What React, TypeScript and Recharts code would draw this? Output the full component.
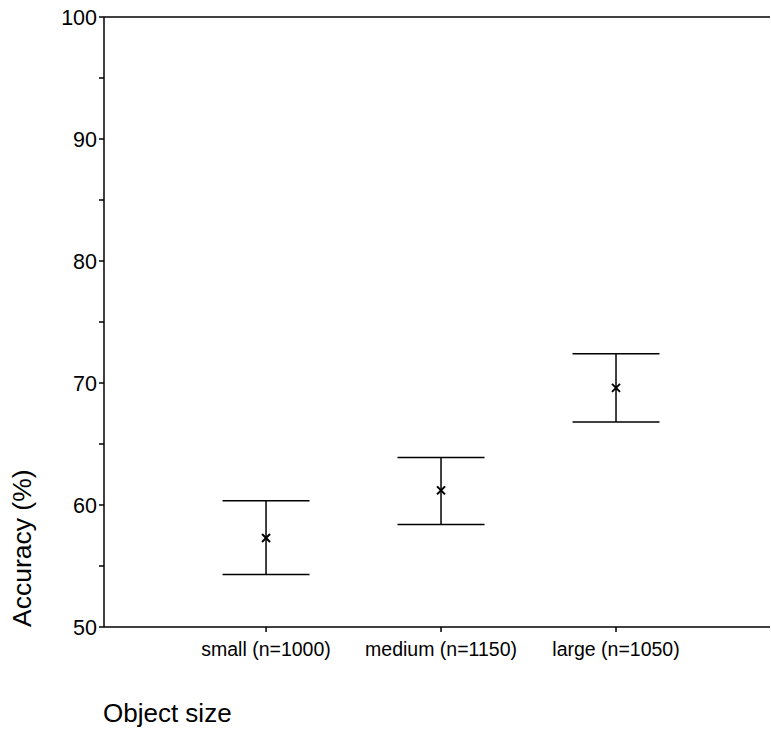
import React from 'react';
import { ScatterChart, Scatter, XAxis, YAxis, ErrorBar, ReferenceLine } from 'recharts';

const categories = ['small (n=1000)', 'medium (n=1150)', 'large (n=1050)'];
const positions = [1, 2, 3];
const means = [57.3, 61.2, 69.6];
const lows = [54.3, 58.4, 66.8];
const highs = [60.35, 63.9, 72.4];
const yTicks = [50, 55, 60, 65, 70, 75, 80, 85, 90, 95, 100];

const data = positions.map((p, i) => ({
  pos: p,
  mean: means[i],
  err: [means[i] - lows[i], highs[i] - means[i]],
}));

const FONT = '"Liberation Sans", Arial, Helvetica, sans-serif';

const Cross = (props: any) => {
  const { cx, cy } = props;
  const s = 4;
  return (
    <g>
      <line x1={cx - s} y1={cy - s} x2={cx + s} y2={cy + s} stroke="#000" strokeWidth={2} />
      <line x1={cx - s} y1={cy + s} x2={cx + s} y2={cy - s} stroke="#000" strokeWidth={2} />
    </g>
  );
};

const YLabel = (props: any) => {
  const vb = props.viewBox || {};
  const x = 31;
  const y = (vb.y || 0) + (vb.height || 0);
  return (
    <text x={x} y={y} transform={`rotate(-90, ${x}, ${y})`} textAnchor="start" fontSize={26.5} fontFamily={FONT} fill="#000">
      Accuracy (%)
    </text>
  );
};

const XLabel = (props: any) => {
  const vb = props.viewBox || {};
  return (
    <text x={(vb.x || 0) - 1} y={(vb.y || 0) + 95} textAnchor="start" fontSize={26} fontFamily={FONT} fill="#000">
      Object size
    </text>
  );
};

export default function App() {
  return (
    <div style={{ position: 'absolute', left: 0, top: 0, width: 771, height: 732, background: '#fff' }}>
      <ScatterChart width={771} height={732} margin={{ top: 17, right: 1, bottom: 0, left: 0 }}>
        <ReferenceLine y={100} stroke="#000" strokeWidth={1.5} />
        <XAxis
          type="number"
          dataKey="pos"
          domain={[0.074, 3.88]}
          ticks={positions}
          tickFormatter={(v: number) => categories[positions.indexOf(v)] ?? ''}
          allowDataOverflow
          height={105}
          stroke="#000"
          strokeWidth={1.5}
          tickSize={5}
          tickMargin={10}
          tick={{ fill: '#000', fontSize: 19.5, fontFamily: FONT }}
          label={<XLabel />}
        />
        <YAxis
          type="number"
          dataKey="mean"
          domain={[50, 100]}
          ticks={yTicks}
          interval={0}
          tickFormatter={(v: number) => (v % 10 === 0 ? String(v) : '')}
          allowDataOverflow
          width={104}
          stroke="#000"
          strokeWidth={1.5}
          tickSize={5}
          tickMargin={2}
          tick={{ fill: '#000', fontSize: 21.5, fontFamily: FONT }}
          label={<YLabel />}
        />
        <Scatter data={data} shape={<Cross />} isAnimationActive={false}>
          <ErrorBar dataKey="err" direction="y" width={43.5} stroke="#000" strokeWidth={1.5} />
        </Scatter>
      </ScatterChart>
    </div>
  );
}
